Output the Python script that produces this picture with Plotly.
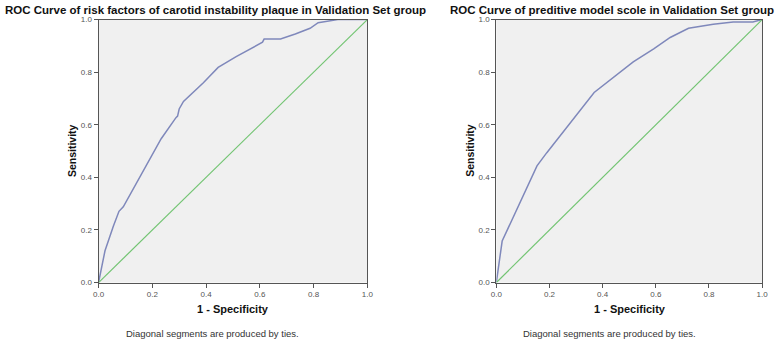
import plotly.graph_objects as go

# ROC curve data (1 - Specificity, Sensitivity)
risk_fpr = [0.0, 0.024, 0.055, 0.076, 0.092, 0.184, 0.233, 0.288, 0.294, 0.300, 0.316,
            0.390, 0.445, 0.512, 0.610, 0.616, 0.677, 0.732, 0.787, 0.817, 0.890, 1.0]
risk_tpr = [0.0, 0.121, 0.214, 0.271, 0.288, 0.460, 0.547, 0.627, 0.633, 0.660, 0.689,
            0.760, 0.818, 0.859, 0.914, 0.926, 0.926, 0.945, 0.967, 0.988, 1.0, 1.0]

model_fpr = [0.0, 0.022, 0.153, 0.190, 0.368, 0.443, 0.515, 0.592,
             0.654, 0.723, 0.816, 0.891, 0.965, 1.0]
model_tpr = [0.0, 0.158, 0.444, 0.494, 0.723, 0.781, 0.839, 0.889,
             0.932, 0.967, 0.982, 0.991, 0.991, 1.0]

ref_line = [0.0, 1.0]
tick_vals = [0.0, 0.2, 0.4, 0.6, 0.8, 1.0]
tick_text = ["0.0", "0.2", "0.4", "0.6", "0.8", "1.0"]

titles = ["ROC Curve of risk factors of carotid instability plaque in Validation Set group",
          "ROC Curve of preditive model scole in Validation Set group"]
x_title = "1 - Specificity"
y_title = "Sensitivity"
footnote = "Diagonal segments are produced by ties."

W, H = 778, 347
CURVE = "#7f88bb"
DIAG = "#72c472"

fig = go.Figure()
fig.add_trace(go.Scatter(x=risk_fpr, y=risk_tpr, mode="lines",
                         line=dict(color=CURVE, width=1.5), xaxis="x", yaxis="y"))
fig.add_trace(go.Scatter(x=ref_line, y=ref_line, mode="lines",
                         line=dict(color=DIAG, width=1.2), xaxis="x", yaxis="y"))
fig.add_trace(go.Scatter(x=model_fpr, y=model_tpr, mode="lines",
                         line=dict(color=CURVE, width=1.5), xaxis="x2", yaxis="y2"))
fig.add_trace(go.Scatter(x=ref_line, y=ref_line, mode="lines",
                         line=dict(color=DIAG, width=1.2), xaxis="x2", yaxis="y2"))

def px_x(p):
    return p / W

def px_y(p):
    return 1 - p / H

axis_common = dict(range=[0, 1], tickvals=tick_vals, ticktext=tick_text,
                   showgrid=False, zeroline=False, showline=True, mirror=True,
                   linecolor="#555555", linewidth=1, ticks="outside", ticklen=4,
                   tickcolor="#555555", tickfont=dict(family="Arial", size=8, color="#555555"),
                   fixedrange=True)

ydom = [px_y(286), px_y(16)]
fig.update_layout(
    width=W, height=H,
    margin=dict(l=0, r=0, t=0, b=0),
    paper_bgcolor="white",
    plot_bgcolor="#f0f0f0",
    showlegend=False,
    xaxis=dict(domain=[px_x(94), px_x(367)], anchor="y", **axis_common),
    yaxis=dict(domain=ydom, anchor="x", **axis_common),
    xaxis2=dict(domain=[px_x(498), px_x(768)], anchor="y2", **axis_common),
    yaxis2=dict(domain=ydom, anchor="x2", **axis_common),
)

ann = []
for cx, t, fs in zip([213, 615], titles, [11.5, 11.5]):
    ann.append(dict(text="<b>%s</b>" % t, x=px_x(cx), y=px_y(6), xref="paper", yref="paper",
                    xanchor="center", yanchor="middle", showarrow=False,
                    font=dict(family="Arial", size=fs, color="#111111")))
for cx in [231, 634]:
    ann.append(dict(text="<b>%s</b>" % x_title, x=px_x(cx), y=px_y(313), xref="paper", yref="paper",
                    xanchor="center", yanchor="middle", showarrow=False,
                    font=dict(family="Arial", size=11, color="#111111")))
for cx in [210, 613]:
    ann.append(dict(text=footnote, x=px_x(cx), y=px_y(338), xref="paper", yref="paper",
                    xanchor="center", yanchor="middle", showarrow=False,
                    font=dict(family="Arial", size=9.5, color="#333333")))
for cx in [67, 471]:
    ann.append(dict(text="<b>%s</b>" % y_title, x=px_x(cx), y=px_y(150), xref="paper", yref="paper",
                    xanchor="center", yanchor="middle", showarrow=False, textangle=-90,
                    font=dict(family="Arial", size=10.5, color="#111111")))
fig.update_layout(annotations=ann)

fig.write_html("out.html", config={"displayModeBar": False},
               post_script="document.body.style.margin='0';document.body.style.overflow='hidden';")
